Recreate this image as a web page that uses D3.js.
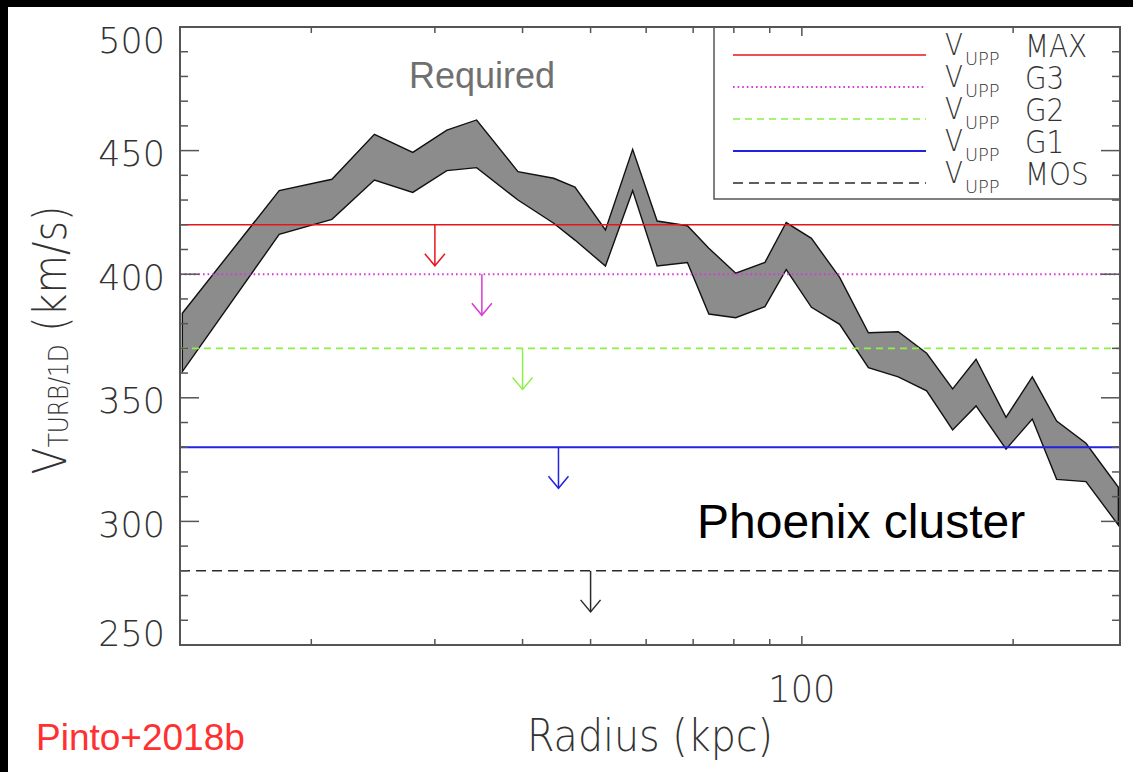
<!DOCTYPE html>
<html>
<head>
<meta charset="utf-8">
<script src="https://cdn.jsdelivr.net/npm/d3@7"></script>
<style>
  body { margin: 0; background: #000; }
  svg { display: block; }
</style>
</head>
<body>
<svg id="chart" width="1133" height="772"></svg>
<script>
// Required turbulent velocity band (km/s) versus radius (kpc)
const radius = [13.1, 18.0, 21.4, 24.6, 27.9, 31.2, 34.4, 39.4, 44.3, 47.5,
                52.5, 57.4, 62.2, 68.7, 73.7, 80.5, 88.6, 95.0, 103.2, 113.2,
                124.4, 137.2, 150.6, 164.0, 177.1, 195.4, 213.0, 230.7, 254.0, 282.5];
const vUpper = [384.2, 433.8, 438.4, 456.6, 449.3, 458.3, 462.4, 441.5, 438.8, 435.2,
                417.9, 450.5, 421.5, 419.6, 410.5, 400.4, 404.8, 420.9, 414.5, 398.7,
                376.3, 376.7, 368.0, 353.6, 365.6, 342.1, 358.5, 340.6, 331.6, 313.8];
const vLower = [360.6, 416.1, 422.2, 438.1, 433.1, 441.9, 443.1, 430.0, 420.6, 413.8,
                403.3, 433.8, 403.3, 404.7, 383.9, 382.4, 386.9, 401.9, 386.6, 379.7,
                362.2, 358.5, 352.8, 337.0, 346.7, 329.2, 341.4, 317.0, 316.1, 298.5];

// Upper limits on turbulence from the different instruments
const limitNames = ["MAX", "G3", "G2", "G1", "MOS"];
const limitValues = [420, 400, 370, 330, 280];
const limitArrowRadius = [30, 35, 40, 45, 50];
const limitColors = ["#e8141c", "#d63ad6", "#8cf048", "#2222e0", "#2a2a2a"];
const limitDash = ["none", "1.6,3", "7,5", "none", "10,6"];
const limitWidth = [1.5, 1.9, 1.6, 1.8, 1.5];
const arrowDrop = 16.6;

// Axis ticks
const yMajorTicks = [250, 300, 350, 400, 450, 500];
const xLabelTicks = [100];

const svg = d3.select("#chart");
const W = 1133, H = 772;
const plot = { left: 180, right: 1120, top: 27, bottom: 645 };
const axisColor = "#555";
const textColor = "#333";
const hersheyFont = "'DejaVu Sans', sans-serif";

// page background: black edge strips, white canvas
svg.append("rect").attr("width", W).attr("height", H).attr("fill", "#000");
svg.append("rect").attr("x", 8).attr("y", 7).attr("width", W - 8).attr("height", H - 7).attr("fill", "#fff");

const x = d3.scaleLog().domain([13, 284]).range([plot.left, plot.right]);
const y = d3.scaleLinear().domain([250, 500]).range([plot.bottom, plot.top]);

const g = svg.append("g");
g.append("clipPath").attr("id", "plotClip")
  .append("rect").attr("x", plot.left).attr("y", plot.top)
  .attr("width", plot.right - plot.left).attr("height", plot.bottom - plot.top);

// band
const bandData = radius.map((r, i) => ({ r, hi: vUpper[i], lo: vLower[i] }));
const area = d3.area().x(d => x(d.r)).y0(d => y(d.lo)).y1(d => y(d.hi));
g.append("path").datum(bandData)
  .attr("d", area)
  .attr("fill", "#8c8c8c")
  .attr("stroke", "#111")
  .attr("stroke-width", 1.4)
  .attr("stroke-linejoin", "miter");

// limit lines and arrows
const limits = limitNames.map((n, i) => ({
  name: n, v: limitValues[i], r: limitArrowRadius[i],
  color: limitColors[i], dash: limitDash[i], w: limitWidth[i]
}));
const lim = g.append("g").attr("clip-path", "url(#plotClip)");
limits.forEach(d => {
  lim.append("line")
    .attr("x1", plot.left).attr("x2", plot.right)
    .attr("y1", y(d.v)).attr("y2", y(d.v))
    .attr("stroke", d.color).attr("stroke-width", d.w)
    .attr("stroke-dasharray", d.dash);
  const ax = x(d.r), y0 = y(d.v), y1 = y(d.v - arrowDrop);
  lim.append("line")
    .attr("x1", ax).attr("x2", ax).attr("y1", y0).attr("y2", y1)
    .attr("stroke", d.color).attr("stroke-width", 1.5);
  lim.append("path")
    .attr("d", `M${ax - 10},${y1 - 12}L${ax},${y1}L${ax + 10},${y1 - 12}`)
    .attr("fill", "none").attr("stroke", d.color).attr("stroke-width", 1.5);
});

// legend
const legX = 714, legBottom = 199;
g.append("rect")
  .attr("x", legX).attr("y", plot.top)
  .attr("width", plot.right - legX).attr("height", legBottom - plot.top)
  .attr("fill", "none").attr("stroke", axisColor).attr("stroke-width", 1.5);
const legRow0 = 55, legStep = 32;
limits.forEach((d, i) => {
  const ly = legRow0 + i * legStep;
  g.append("line")
    .attr("x1", 733).attr("x2", 926).attr("y1", ly).attr("y2", ly)
    .attr("stroke", d.color).attr("stroke-width", d.w)
    .attr("stroke-dasharray", d.dash);
  g.append("text")
    .attr("transform", `translate(945,${ly}) scale(0.87,1)`)
    .attr("font-family", hersheyFont).attr("font-weight", 200)
    .attr("font-size", 30).attr("fill", textColor).text("V");
  g.append("text")
    .attr("transform", `translate(965,${ly + 10}) scale(1.05,1)`)
    .attr("font-family", hersheyFont).attr("font-weight", 200)
    .attr("font-size", 17).attr("fill", textColor).text("UPP");
  g.append("text")
    .attr("transform", `translate(1025,${ly + 2}) scale(0.87,1)`)
    .attr("font-family", hersheyFont).attr("font-weight", 200)
    .attr("font-size", 32).attr("fill", textColor).text(d.name);
});

// axes: ticks on all four sides
const ax = g.append("g").attr("stroke", axisColor).attr("stroke-width", 1.5);
const yMinor = d3.range(250, 501, 10).filter(v => !yMajorTicks.includes(v));
yMajorTicks.forEach(v => {
  ax.append("line").attr("x1", plot.left).attr("x2", plot.left + 19).attr("y1", y(v)).attr("y2", y(v));
  ax.append("line").attr("x1", plot.right).attr("x2", plot.right - 19).attr("y1", y(v)).attr("y2", y(v));
});
yMinor.forEach(v => {
  ax.append("line").attr("x1", plot.left).attr("x2", plot.left + 8).attr("y1", y(v)).attr("y2", y(v));
  ax.append("line").attr("x1", plot.right).attr("x2", plot.right - 8).attr("y1", y(v)).attr("y2", y(v));
});
x.ticks().forEach(t => {
  const major = Math.abs(Math.log10(t) - Math.round(Math.log10(t))) < 1e-9;
  const len = major ? 9 : 6;
  ax.append("line").attr("x1", x(t)).attr("x2", x(t)).attr("y1", plot.bottom).attr("y2", plot.bottom - len);
  ax.append("line").attr("x1", x(t)).attr("x2", x(t)).attr("y1", plot.top).attr("y2", plot.top + len);
});

// frame
g.append("rect")
  .attr("x", plot.left).attr("y", plot.top)
  .attr("width", plot.right - plot.left).attr("height", plot.bottom - plot.top)
  .attr("fill", "none").attr("stroke", axisColor).attr("stroke-width", 2);

// y tick labels (kept inside the frame height)
yMajorTicks.forEach(v => {
  const by = Math.max(53.3, Math.min(645.7, y(v) + 15.5));
  g.append("text")
    .attr("transform", `translate(165,${by}) scale(0.97,1)`)
    .attr("text-anchor", "end")
    .attr("font-family", hersheyFont).attr("font-weight", 200)
    .attr("font-size", 36).attr("fill", textColor).text(v);
});

// x tick labels
xLabelTicks.forEach(t => {
  g.append("text")
    .attr("transform", `translate(${x(t)},702) scale(0.95,1)`)
    .attr("text-anchor", "middle")
    .attr("font-family", hersheyFont).attr("font-weight", 200)
    .attr("font-size", 37).attr("fill", textColor).text(t);
});

// axis titles
g.append("text")
  .attr("transform", "translate(650,751) scale(0.9,1)")
  .attr("text-anchor", "middle")
  .attr("font-family", hersheyFont).attr("font-weight", 200)
  .attr("font-size", 44).attr("fill", textColor).text("Radius (kpc)");

const yTitle = g.append("text")
  .attr("transform", "translate(66,340) rotate(-90) scale(0.86,1)")
  .attr("text-anchor", "middle")
  .attr("font-family", hersheyFont).attr("font-weight", 200)
  .attr("fill", textColor);
yTitle.append("tspan").attr("font-size", 46).text("V");
yTitle.append("tspan").attr("font-size", 27).attr("dy", 2).text("TURB/1D");
yTitle.append("tspan").attr("font-size", 46).attr("dy", -2).text(" (km/s)");

// annotations
g.append("text").attr("x", 409).attr("y", 88)
  .attr("font-family", "'Liberation Sans', Arial, sans-serif")
  .attr("font-size", 36).attr("fill", "#707070").text("Required");
g.append("text").attr("x", 697).attr("y", 538)
  .attr("font-family", "'Liberation Sans', Arial, sans-serif")
  .attr("font-size", 48).attr("fill", "#000").text("Phoenix cluster");
g.append("text").attr("x", 36).attr("y", 750)
  .attr("font-family", "'Liberation Sans', Arial, sans-serif")
  .attr("font-size", 37).attr("fill", "#ff3030").text("Pinto+2018b");
</script>
</body>
</html>
